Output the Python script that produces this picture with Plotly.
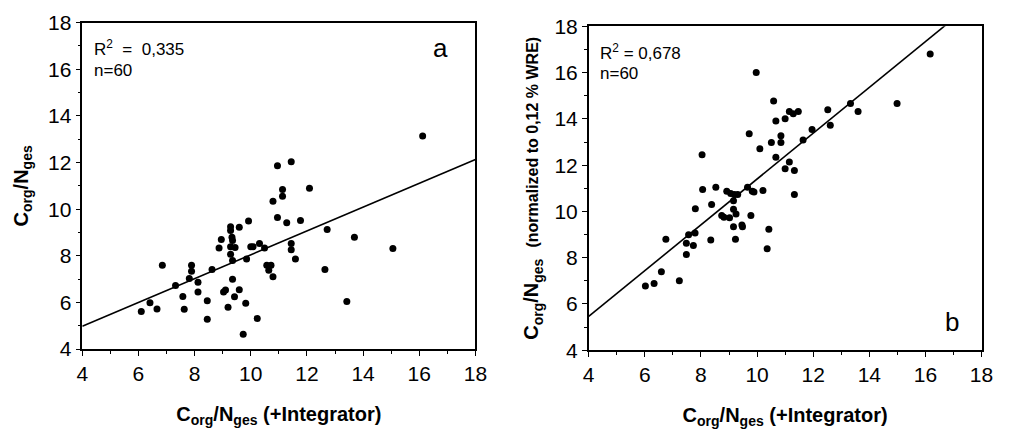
import plotly.graph_objects as go

# C/N ratios, panel a (measured) and panel b (normalized to 0,12 % WRE)
x_a = [6.10, 6.41, 6.66, 6.85, 7.32, 7.58, 7.63, 7.89, 7.89, 7.81, 8.12, 8.12, 8.45, 8.45, 8.62,
       8.87, 8.95, 9.03, 9.10, 9.19, 9.28, 9.28, 9.33, 9.35, 9.28, 9.44, 9.28, 9.35, 9.35, 9.42,
       9.59, 9.59, 9.82, 9.85, 9.73, 9.92, 10.00, 10.08, 10.23, 10.31, 10.49, 10.57, 10.64, 10.72, 10.79,
       10.79, 10.95, 10.95, 11.13, 11.13, 11.28, 11.44, 12.09, 11.77, 11.44, 11.44, 11.59, 12.72, 12.64, 13.69,
       13.42, 15.06, 16.12]
y_a = [5.61, 5.99, 5.72, 7.59, 6.73, 6.25, 5.71, 7.59, 7.34, 7.03, 6.86, 6.45, 6.07, 5.28, 7.41,
       8.33, 8.70, 6.45, 6.53, 5.79, 9.25, 9.08, 8.79, 8.66, 8.39, 8.35, 8.07, 7.80, 6.99, 6.24,
       9.22, 6.54, 5.96, 7.86, 4.63, 9.49, 8.39, 8.39, 5.31, 8.53, 8.33, 7.59, 7.38, 7.59, 7.10,
       10.34, 11.86, 9.64, 10.84, 10.55, 9.42, 12.03, 10.90, 9.51, 8.53, 8.26, 7.86, 9.13, 7.41, 8.79,
       6.04, 8.31, 13.14]

x_b = [6.02, 6.33, 6.59, 6.75, 7.23, 7.48, 7.48, 7.56, 7.73, 7.79, 7.80, 8.04, 8.06, 8.35, 8.38,
       8.53, 8.74, 8.82, 8.92, 9.02, 9.06, 9.16, 9.16, 9.16, 9.23, 9.25, 9.31, 9.19, 9.46, 9.48,
       9.66, 9.72, 9.78, 9.83, 9.89, 9.97, 10.10, 10.21, 10.36, 10.42, 10.51, 10.59, 10.67, 10.67, 10.85,
       10.85, 11.00, 11.00, 11.15, 11.15, 11.29, 11.33, 11.33, 11.47, 11.64, 11.96, 12.52, 12.61, 13.33, 13.60,
       14.99, 16.17]
y_b = [6.78, 6.89, 7.39, 8.80, 7.00, 8.62, 8.14, 8.99, 8.53, 9.07, 10.12, 12.45, 10.95, 8.77, 10.30,
       11.05, 9.82, 9.75, 10.87, 9.73, 10.77, 10.46, 10.09, 9.34, 8.80, 9.89, 10.73, 10.73, 9.41, 9.34,
       11.05, 13.36, 9.82, 10.87, 10.84, 16.00, 12.71, 10.91, 8.39, 9.23, 12.98, 14.77, 13.91, 12.34, 13.27,
       12.98, 14.01, 11.84, 12.14, 14.32, 14.22, 11.77, 10.73, 14.32, 13.09, 13.54, 14.39, 13.73, 14.66, 14.32,
       14.66, 16.80]

# regression lines (slope, intercept)
fit_a = [0.511, 2.93]
fit_b = [0.99, 1.50]

labels = ['a', 'b']
r2_text = ['R<sup>2</sup>  =  0,335', 'R<sup>2</sup> = 0,678']
n_text = ['n=60', 'n=60']

x_range = [4, 18]
y_range = [4, 18]

FONT = 'Liberation Sans, Arial, sans-serif'

data = []
data += [go.Scatter(x=x_a, y=y_a, mode='markers', marker=dict(color='black', size=7), xaxis='x', yaxis='y')]
data += [go.Scatter(x=x_range, y=[fit_a[0] * v + fit_a[1] for v in x_range], mode='lines',
                    line=dict(color='black', width=1.6), xaxis='x', yaxis='y')]
data += [go.Scatter(x=x_b, y=y_b, mode='markers', marker=dict(color='black', size=7), xaxis='x2', yaxis='y2')]
data += [go.Scatter(x=x_range, y=[fit_b[0] * v + fit_b[1] for v in x_range], mode='lines',
                    line=dict(color='black', width=1.6), xaxis='x2', yaxis='y2')]

layout = go.Layout(
    width=1009, height=433,
    margin=dict(l=0, r=0, t=0, b=0),
    plot_bgcolor='#FFF', paper_bgcolor='#FFF',
    showlegend=False,
    font=dict(family=FONT, size=21, color='black'),
    xaxis=dict(domain=[0.077, 0.4737], anchor='y'),
    yaxis=dict(domain=[0.178, 0.974], anchor='x'),
    xaxis2=dict(domain=[0.588, 0.9844], anchor='y2'),
    yaxis2=dict(domain=[0.175, 0.965], anchor='x2'),
)

fig = go.Figure(data=data, layout=layout)

xtitle = '<b>C<sub>org</sub>/N<sub>ges</sub> (+Integrator)</b>'
fig.update_xaxes(range=x_range, dtick=2, showgrid=False, zeroline=False, showline=True, linewidth=1.5,
                 linecolor='black', mirror=True, ticks='outside', ticklen=5, tickwidth=1.2, tickcolor='black',
                 minor=dict(dtick=1, ticks='outside', ticklen=3, tickcolor='black'),
                 tickfont=dict(size=21), title_text=xtitle, title_font=dict(size=20), title_standoff=23)
fig.update_yaxes(range=y_range, dtick=2, showgrid=False, zeroline=False, showline=True, linewidth=1.5,
                 linecolor='black', mirror=True, ticks='outside', ticklen=5, tickwidth=1.2, tickcolor='black',
                 minor=dict(dtick=1, ticks='outside', ticklen=3, tickcolor='black'),
                 tickfont=dict(size=21), title_font=dict(size=20))
fig.update_yaxes(title_text='<b>C<sub>org</sub>/N<sub>ges</sub></b>', title_standoff=14, selector=dict(anchor='x'))
fig.update_yaxes(title_text="<b>C<sub>org</sub>/N<sub>ges</sub>  <span style='font-size:16px'>(normalized to 0,12 % WRE)</span></b>",
                 title_standoff=10, selector=dict(anchor='x2'))

# panel texts
for i, ax in enumerate(['', '2']):
    fig.add_annotation(x=4.33, y=16.9, xref='x' + ax, yref='y' + ax, text=r2_text[i], showarrow=False,
                       xanchor='left', yanchor='middle', font=dict(size=17))
    fig.add_annotation(x=4.33, y=15.95, xref='x' + ax, yref='y' + ax, text=n_text[i], showarrow=False,
                       xanchor='left', yanchor='middle', font=dict(size=17))
fig.add_annotation(x=16.75, y=16.9, xref='x', yref='y', text=labels[0], showarrow=False, font=dict(size=26))
fig.add_annotation(x=16.93, y=5.2, xref='x2', yref='y2', text=labels[1], showarrow=False, font=dict(size=26))

fig.write_html("out.html", config={'displayModeBar': False}, post_script="document.body.style.margin='0';")
